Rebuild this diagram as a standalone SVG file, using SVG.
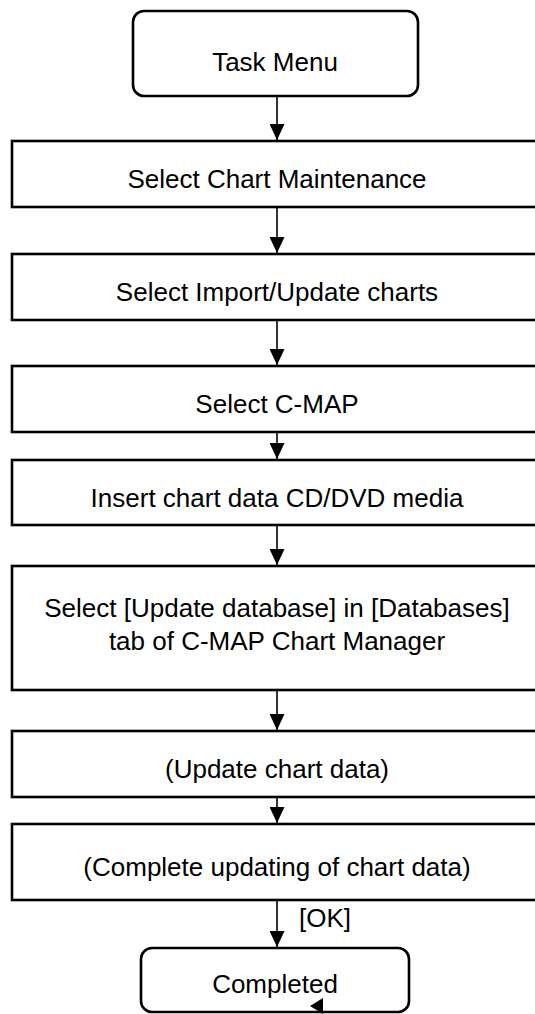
<svg xmlns="http://www.w3.org/2000/svg" width="535" height="1014" viewBox="0 0 535 1014">
<style>
.box{fill:#fff;stroke:#000;stroke-width:2.6}
.t{font-family:"Liberation Sans",Arial,sans-serif;font-size:26px;fill:#000;text-anchor:middle}
.c{stroke:#000;stroke-width:1.6;fill:none}
</style>
<defs>
<marker id="ah" markerWidth="15" markerHeight="16" refX="7.5" refY="16" orient="0" markerUnits="userSpaceOnUse">
<polygon points="0,0 15,0 7.5,16" fill="#000"/>
</marker>
</defs>
<rect width="535" height="1014" fill="#fff"/>
<g id="n0"><rect class="box" x="133" y="11" width="285" height="85" rx="11"/><text class="t" x="275" y="71">Task Menu</text></g>
<g id="n1"><rect class="box" x="12" y="141" width="532" height="66"/><text class="t" x="277" y="188">Select Chart Maintenance</text></g>
<g id="n2"><rect class="box" x="12" y="254" width="532" height="66"/><text class="t" x="277" y="301">Select Import/Update charts</text></g>
<g id="n3"><rect class="box" x="12" y="366" width="532" height="66"/><text class="t" x="277" y="413">Select C-MAP</text></g>
<g id="n4"><rect class="box" x="12" y="460" width="532" height="65"/><text class="t" x="277" y="507">Insert chart data CD/DVD media</text></g>
<g id="n5"><rect class="box" x="12" y="566" width="532" height="124"/><text class="t" x="277" y="617">Select [Update database] in [Databases]</text><text class="t" x="277" y="650">tab of C-MAP Chart Manager</text></g>
<g id="n6"><rect class="box" x="12" y="731" width="532" height="66"/><text class="t" x="277" y="778">(Update chart data)</text></g>
<g id="n7"><rect class="box" x="12" y="824" width="532" height="76"/><text class="t" x="277" y="876">(Complete updating of chart data)</text></g>
<g id="n8"><rect class="box" x="141" y="948" width="268" height="64" rx="11"/><text class="t" x="275" y="993">Completed</text><polygon points="310,1006 323,998 323,1014" fill="#000"/></g>
<g id="connectors">
<line class="c" x1="277" y1="96" x2="277" y2="140" marker-end="url(#ah)"/>
<line class="c" x1="277" y1="207" x2="277" y2="253" marker-end="url(#ah)"/>
<line class="c" x1="277" y1="320" x2="277" y2="365" marker-end="url(#ah)"/>
<line class="c" x1="277" y1="432" x2="277" y2="459" marker-end="url(#ah)"/>
<line class="c" x1="277" y1="525" x2="277" y2="565" marker-end="url(#ah)"/>
<line class="c" x1="277" y1="690" x2="277" y2="730" marker-end="url(#ah)"/>
<line class="c" x1="277" y1="797" x2="277" y2="823" marker-end="url(#ah)"/>
<line class="c" x1="277" y1="900" x2="277" y2="947" marker-end="url(#ah)"/>
<text class="t" x="299" y="927" style="text-anchor:start">[OK]</text>
</g>
</svg>
